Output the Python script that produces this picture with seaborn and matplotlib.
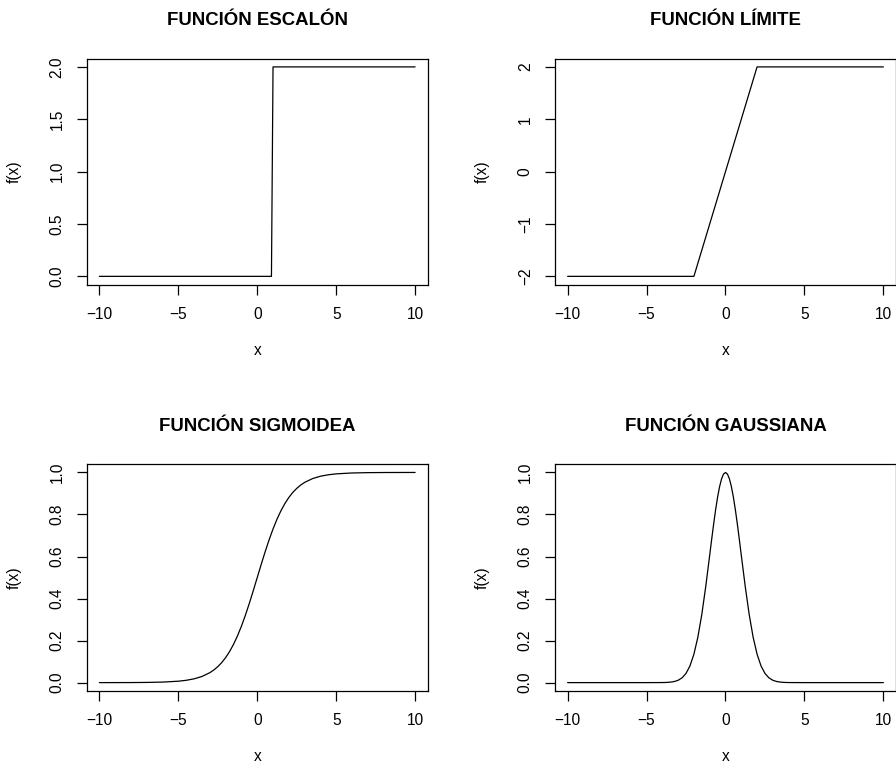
import matplotlib
matplotlib.use("Agg")
import matplotlib.pyplot as plt
import seaborn as sns

# Datos
x_escalon = [-10, 0.9, 1.0, 10]
y_escalon = [0, 0, 2, 2]

x_limite = [-10, -2, 2, 10]
y_limite = [-2, -2, 2, 2]

x_sigmoide = [-10, -9, -8, -7, -6, -5, -4.5, -4, -3.5, -3, -2.75, -2.5, -2.25, -2,
              -1.75, -1.5, -1.25, -1, -0.75, -0.5, -0.25, 0,
              0.25, 0.5, 0.75, 1, 1.25, 1.5, 1.75, 2, 2.25, 2.5, 2.75, 3,
              3.5, 4, 4.5, 5, 6, 7, 8, 9, 10]
y_sigmoide = [0.0000, 0.0001, 0.0003, 0.0009, 0.0025, 0.0067, 0.0110, 0.0180, 0.0293,
              0.0474, 0.0601, 0.0759, 0.0953, 0.1192, 0.1480, 0.1824, 0.2227, 0.2689,
              0.3208, 0.3775, 0.4378, 0.5000,
              0.5622, 0.6225, 0.6792, 0.7311, 0.7773, 0.8176, 0.8520, 0.8808, 0.9047,
              0.9241, 0.9399, 0.9526,
              0.9707, 0.9820, 0.9890, 0.9933, 0.9975, 0.9991, 0.9997, 0.9999, 1.0000]

x_gauss = [-10, -6, -5, -4, -3.75, -3.5, -3.25, -3, -2.75, -2.5, -2.25, -2, -1.75, -1.5,
           -1.25, -1, -0.875, -0.75, -0.625, -0.5, -0.375, -0.25, -0.125, 0,
           0.125, 0.25, 0.375, 0.5, 0.625, 0.75, 0.875, 1, 1.25, 1.5, 1.75, 2,
           2.25, 2.5, 2.75, 3, 3.25, 3.5, 3.75, 4, 5, 6, 10]
y_gauss = [0, 0, 0, 0.0003, 0.0009, 0.0022, 0.0051, 0.0111, 0.0228, 0.0439, 0.0796,
           0.1353, 0.2163, 0.3247, 0.4578, 0.6065, 0.6820, 0.7548, 0.8226, 0.8825,
           0.9321, 0.9692, 0.9922, 1.0,
           0.9922, 0.9692, 0.9321, 0.8825, 0.8226, 0.7548, 0.6820, 0.6065, 0.4578,
           0.3247, 0.2163, 0.1353, 0.0796, 0.0439, 0.0228, 0.0111, 0.0051, 0.0022,
           0.0009, 0.0003, 0, 0, 0]

xticks = [-10, -5, 0, 5, 10]
yticks_escalon = [0.0, 0.5, 1.0, 1.5, 2.0]
yticks_limite = [-2, -1, 0, 1, 2]
yticks_unidad = [0.0, 0.2, 0.4, 0.6, 0.8, 1.0]

sns.set_style("white")
plt.rcParams['font.family'] = ['Liberation Sans', 'DejaVu Sans']
plt.rcParams['text.color'] = 'black'
plt.rcParams['axes.labelcolor'] = 'black'

fig = plt.figure(figsize=(8.96, 7.65), dpi=100)

paneles = [
    ([0.0968, 0.6278, 0.3806, 0.2957], "FUNCIÓN ESCALÓN", x_escalon, y_escalon,
     yticks_escalon, "{:.1f}", (-0.08, 2.08)),
    ([0.6194, 0.6278, 0.3806, 0.2957], "FUNCIÓN LÍMITE", x_limite, y_limite,
     yticks_limite, "{:d}", (-2.16, 2.16)),
    ([0.0968, 0.0967, 0.3806, 0.2967], "FUNCIÓN SIGMOIDEA", x_sigmoide, y_sigmoide,
     yticks_unidad, "{:.1f}", (-0.04, 1.04)),
    ([0.6194, 0.0967, 0.3806, 0.2967], "FUNCIÓN GAUSSIANA", x_gauss, y_gauss,
     yticks_unidad, "{:.1f}", (-0.04, 1.04)),
]

for rect, titulo, xs, ys, yt, fmt, ylim in paneles:
    ax = fig.add_axes(rect)
    sns.lineplot(x=xs, y=ys, ax=ax, color='black', linewidth=0.9,
                 estimator=None, sort=False)
    ax.set_xlim(-10.8, 10.8)
    ax.set_ylim(*ylim)
    ax.set_xticks(xticks)
    ax.set_xticklabels([str(t).replace('-', '\u2212') for t in xticks])
    ax.set_yticks(yt)
    ax.set_yticklabels([fmt.format(t).replace('-', '\u2212') for t in yt])
    for s in ax.spines.values():
        s.set_color('black')
        s.set_linewidth(0.9)
    ax.tick_params(direction='out', length=7, width=0.9, color='black',
                   labelsize=11.2, labelcolor='black', pad=9)
    ax.tick_params(axis='both', bottom=True, left=True, top=False, right=False)
    plt.setp(ax.get_yticklabels(), rotation=90, va='center')
    ax.set_title(titulo, fontsize=13.4, fontweight='bold', pad=24, color='black')
    ax.set_xlabel("x", fontsize=11.2, labelpad=15)
    ax.set_ylabel("f(x)", fontsize=11.2, labelpad=20)

fig.savefig("out.png", dpi=100)
